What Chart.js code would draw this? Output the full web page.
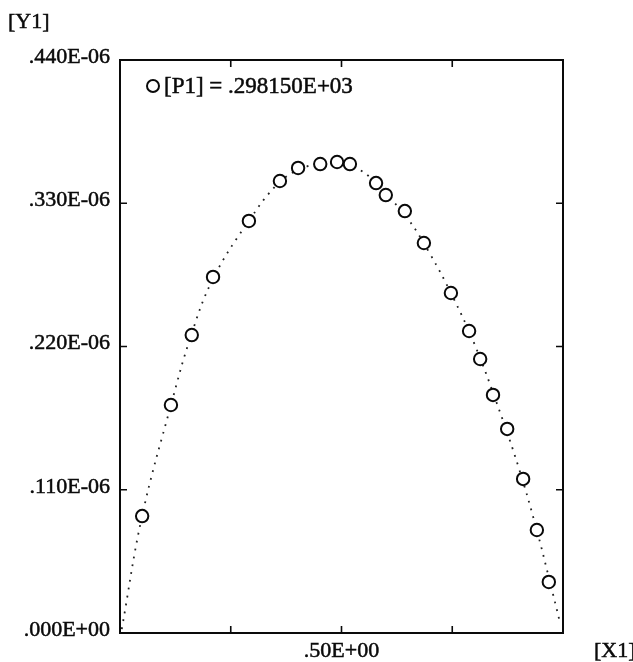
<!DOCTYPE html>
<html>
<head>
<meta charset="utf-8">
<script src="https://cdn.jsdelivr.net/npm/chart.js@4/dist/chart.umd.min.js"></script>
<style>
  html, body { margin: 0; padding: 0; background: #ffffff; }
  #wrap { width: 633px; height: 662px; position: relative; }
</style>
</head>
<body>
<div id="wrap"><canvas id="c" width="633" height="662"></canvas></div>
<script>
// ---- data ----
const seriesLabel = '[P1] = .298150E+03';
const xValues = [0.050, 0.115, 0.162, 0.210, 0.291, 0.361, 0.402, 0.452, 0.490, 0.519,
                 0.578, 0.600, 0.643, 0.686, 0.747, 0.788, 0.813, 0.842, 0.874, 0.910, 0.941, 0.968];
const yValues = [0.0898e-6, 0.1751e-6, 0.2288e-6, 0.2734e-6, 0.3164e-6, 0.3471e-6, 0.3571e-6, 0.3601e-6,
                 0.3617e-6, 0.3601e-6, 0.3455e-6, 0.3363e-6, 0.3240e-6, 0.2995e-6, 0.2611e-6, 0.2319e-6,
                 0.2104e-6, 0.1828e-6, 0.1567e-6, 0.1183e-6, 0.0791e-6, 0.0392e-6];
// dotted fitted curve
const curveX = [0.004, 0.050, 0.115, 0.160, 0.210, 0.290, 0.360, 0.420, 0.480, 0.540, 0.600,
                0.650, 0.700, 0.750, 0.800, 0.850, 0.900, 0.940, 0.970, 0.994];
const curveY = [0.003e-6, 0.090e-6, 0.175e-6, 0.228e-6, 0.272e-6, 0.316e-6, 0.346e-6, 0.358e-6,
                0.361e-6, 0.356e-6, 0.337e-6, 0.318e-6, 0.291e-6, 0.259e-6, 0.222e-6, 0.177e-6,
                0.127e-6, 0.080e-6, 0.040e-6, 0.007e-6];
// axes
const yTickValues = [0, 0.11e-6, 0.22e-6, 0.33e-6, 0.44e-6];
const yTickLabels = ['.000E+00', '.110E-06', '.220E-06', '.330E-06', '.440E-06'];
const xTickValues = [0.25, 0.5, 0.75];
const xTickLabels = ['', '.50E+00', ''];
const yAxisName = '[Y1]';
const xAxisName = '[X1]';

const FONT = '"Liberation Serif", "Times New Roman", serif';
const INK = '#0a0a0a';

const points = xValues.map((x, i) => ({ x: x, y: yValues[i] }));
const curve = curveX.map((x, i) => ({ x: x, y: curveY[i] }));

function heavyText(ctx, s, x, y) {
  ctx.fillText(s, x, y);
  ctx.strokeText(s, x, y);
}

const framePlugin = {
  id: 'frame',
  afterDatasetsDraw(chart) {
    const { ctx, chartArea: a, scales } = chart;
    ctx.save();
    ctx.strokeStyle = INK;
    ctx.lineWidth = 2;
    ctx.strokeRect(a.left, a.top, a.right - a.left, a.bottom - a.top);
    const tl = 7;
    ctx.lineWidth = 1.6;
    ctx.beginPath();
    xTickValues.forEach(v => {
      const px = scales.x.getPixelForValue(v);
      ctx.moveTo(px, a.bottom); ctx.lineTo(px, a.bottom - tl);
      ctx.moveTo(px, a.top); ctx.lineTo(px, a.top + tl);
    });
    yTickValues.slice(1, -1).forEach(v => {
      const py = scales.y.getPixelForValue(v);
      ctx.moveTo(a.left, py); ctx.lineTo(a.left + tl, py);
      ctx.moveTo(a.right, py); ctx.lineTo(a.right - tl, py);
    });
    ctx.stroke();
    // axis names
    ctx.fillStyle = INK;
    ctx.lineWidth = 0.5;
    ctx.font = '22px ' + FONT;
    ctx.textBaseline = 'middle';
    ctx.textAlign = 'left';
    heavyText(ctx, yAxisName, 8, 22);
    heavyText(ctx, xAxisName, a.right + 31, 651);
    // legend
    const lx = a.left + 33, ly = a.top + 26;
    ctx.beginPath();
    ctx.lineWidth = 2;
    ctx.arc(lx, ly, 6, 0, Math.PI * 2);
    ctx.fillStyle = '#fff';
    ctx.fill();
    ctx.stroke();
    ctx.fillStyle = INK;
    ctx.lineWidth = 0.5;
    ctx.font = '23px ' + FONT;
    heavyText(ctx, chart.data.datasets[0].label, lx + 11, ly + 1);
    ctx.restore();
  }
};

new Chart(document.getElementById('c'), {
  type: 'scatter',
  data: {
    datasets: [
      {
        label: seriesLabel,
        data: points,
        showLine: false,
        pointStyle: 'circle',
        pointRadius: 6.2,
        pointHoverRadius: 6.2,
        pointBorderWidth: 2,
        pointBorderColor: INK,
        pointBackgroundColor: '#ffffff',
        order: 0
      },
      {
        label: 'fit',
        data: curve,
        showLine: true,
        tension: 0.4,
        borderColor: '#222',
        borderWidth: 1.8,
        borderDash: [1.8, 6.2],
        pointRadius: 0,
        fill: false,
        order: 1
      }
    ]
  },
  options: {
    responsive: false,
    animation: false,
    events: [],
    layout: { padding: { top: 60, right: 70, left: 0, bottom: 0 } },
    plugins: { legend: { display: false }, tooltip: { enabled: false } },
    scales: {
      x: {
        type: 'linear', min: 0, max: 1,
        afterBuildTicks: s => { s.ticks = xTickValues.map(v => ({ value: v })); },
        afterFit: s => { s.height = 29; },
        grid: { display: false, drawTicks: false },
        border: { display: false },
        ticks: {
          maxRotation: 0, autoSkip: false, padding: 5,
          color: INK, font: { family: FONT, size: 22 },
          textStrokeColor: INK, textStrokeWidth: 0.5,
          callback: (v) => { const i = xTickValues.indexOf(v); return i >= 0 ? xTickLabels[i] : ''; }
        }
      },
      y: {
        type: 'linear', min: 0, max: 0.44e-6,
        afterBuildTicks: s => { s.ticks = yTickValues.map(v => ({ value: v })); },
        afterFit: s => { s.width = 120; },
        grid: { display: false, drawTicks: false },
        border: { display: false },
        ticks: {
          autoSkip: false, padding: 10, labelOffset: -3,
          color: INK, font: { family: FONT, size: 22 },
          textStrokeColor: INK, textStrokeWidth: 0.5,
          callback: (v) => { const i = yTickValues.indexOf(v); return i >= 0 ? yTickLabels[i] : ''; }
        }
      }
    }
  },
  plugins: [framePlugin]
});
</script>
</body>
</html>
